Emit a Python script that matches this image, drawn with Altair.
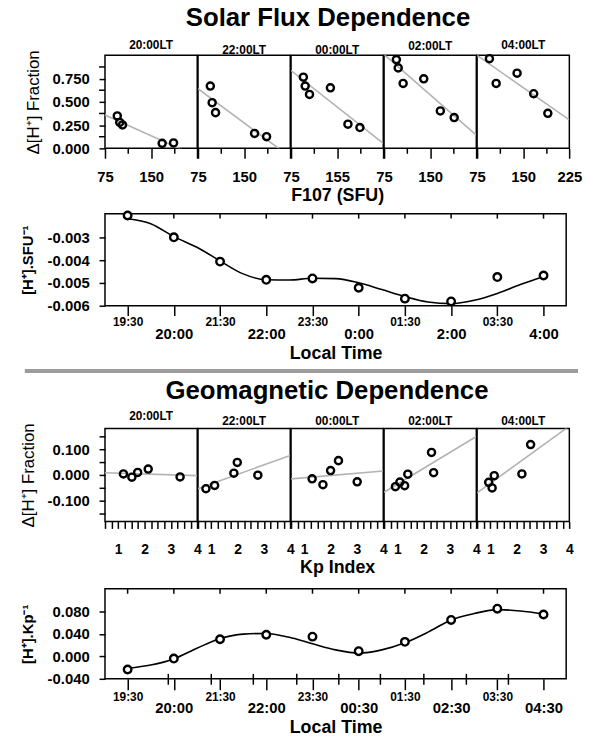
import altair as alt
import pandas as pd

FONT = "Liberation Sans"

# ---------------- data: solar flux scatter panels ----------------
solar_panels = ["20:00LT", "22:00LT", "00:00LT", "02:00LT", "04:00LT"]
solar_f107 = [
    [95, 99, 103.5, 168, 186.5],
    [95, 98, 103.5, 167, 186.5],
    [95, 98, 105, 139, 167.5, 187],
    [95, 98, 106, 139.5, 166.5, 189],
    [95, 106, 140, 167, 190],
]
solar_frac = [
    [0.349, 0.278, 0.252, 0.054, 0.058],
    [0.669, 0.491, 0.384, 0.160, 0.125],
    [0.765, 0.669, 0.580, 0.651, 0.260, 0.224],
    [0.954, 0.865, 0.698, 0.747, 0.402, 0.331],
    [0.964, 0.698, 0.808, 0.587, 0.377],
]
solar_fit_f107 = [75, 225]
solar_fit_start = [0.359, 0.641, 0.836, 1.009, 1.0]
solar_fit_end = [-0.088, -0.093, 0.053, 0.142, 0.306]
solar_x_ticks = [75, 112.5, 150, 187.5, 225]
solar_x_tick_text = [
    ["75", "", "150", "", ""],
    ["75", "", "150", "", ""],
    ["75", "", "155", "", ""],
    ["75", "", "150", "", ""],
    ["75", "", "150", "", "225"],
]
solar_y_labels = [0, 0.25, 0.5, 0.75]
solar_y_minor = [0.125, 0.375, 0.625, 0.875]

# ---------------- data: geomagnetic scatter panels ----------------
geo_panels = ["20:00LT", "22:00LT", "00:00LT", "02:00LT", "04:00LT"]
geo_kp = [
    [1.2, 1.52, 1.74, 2.14, 3.35],
    [0.8, 1.13, 1.86, 1.99, 2.77],
    [1.3, 1.71, 2.0, 2.3, 3.01],
    [0.93, 1.1, 1.28, 1.4, 2.3, 2.38],
    [0.94, 1.07, 1.15, 2.2, 2.53],
]
geo_frac = [
    [0.004, -0.009, 0.010, 0.023, -0.008],
    [-0.054, -0.041, 0.007, 0.049, -0.001],
    [-0.015, -0.038, 0.017, 0.056, -0.027],
    [-0.046, -0.028, -0.042, 0.003, 0.088, 0.009],
    [-0.029, -0.051, -0.003, 0.004, 0.119],
]
geo_fit_kp = [0.5, 4.0]
geo_fit_start = [0.0089, -0.0536, -0.0153, -0.0676, -0.070]
geo_fit_end = [-0.0026, 0.0765, 0.0153, 0.1505, 0.191]
geo_x_ticks = [0.5, 0.75, 1, 1.25, 1.5, 1.75, 2, 2.25, 2.5, 2.75, 3, 3.25, 3.5, 3.75, 4]
geo_x_tick_text = ["", "", "1", "", "", "", "2", "", "", "", "3", "", "", "", "4"]
geo_y_ticks = [-0.15, -0.1, -0.05, 0, 0.05, 0.1, 0.15]
geo_y_tick_text = ["", "-0.100", "", "0.000", "", "0.100", ""]

# ---------------- data: local-time line panels ----------------
time_pos = [0, 1, 2, 3, 4, 5, 6, 7, 8, 9]
solar_time_labels = ["19:30", "20:00", "21:30", "22:00", "23:30", "0:00", "01:30", "2:00", "03:30", "4:00"]
solar_slope = [-0.00203, -0.00299, -0.00406, -0.00486, -0.00480, -0.00521, -0.00569, -0.00581, -0.00474, -0.00467]
curve_pos = [0, 0.5, 1, 1.5, 2, 2.5, 3, 3.5, 4, 4.5, 5, 5.5, 6, 6.5, 7, 7.5, 8, 8.5, 9]
solar_curve = [-0.00217, -0.00239, -0.00296, -0.00343, -0.00403, -0.00460, -0.00486, -0.00487, -0.00479,
               -0.00481, -0.00499, -0.00529, -0.00560, -0.00584, -0.00591, -0.00576, -0.00546, -0.00507, -0.00471]
solar_y_ticks = [-0.006, -0.005, -0.004, -0.003]
solar_y_text = ["-0.006", "-0.005", "-0.004", "-0.003"]

geo_time_labels = ["19:30", "20:00", "21:30", "22:00", "23:30", "00:30", "01:30", "02:30", "03:30", "04:30"]
geo_slope = [-0.0234, -0.0040, 0.0303, 0.0383, 0.0349, 0.0091, 0.0257, 0.0646, 0.0846, 0.0743]
geo_curve = [-0.0211, -0.0154, -0.0046, 0.0143, 0.0314, 0.0394, 0.0406, 0.0337, 0.0223, 0.0114,
             0.0057, 0.0114, 0.0240, 0.0429, 0.0646, 0.0760, 0.0829, 0.0806, 0.0754]
geo_line_y_ticks = [-0.04, 0.0, 0.04, 0.08]
geo_line_y_text = ["-0.040", "0.000", "0.040", "0.080"]
geo_minor_ticks = [0.88, 1.81, 2.72, 3.66, 4.57, 5.47, 6.41, 7.33, 8.24]

PANEL_W = 93.2
LINE_W = 466


def js_list(items):
    return "[" + ",".join("'%s'" % s for s in items) + "]"


def scatter_panel(title, xs, ys, fit_x, fit_y, xdom, ydom, xaxis, yaxis, w, h, toff, yminor=None):
    pts = pd.DataFrame({"x": xs, "y": ys})
    fit = pd.DataFrame({"x": fit_x, "y": fit_y})
    X = alt.X("x:Q", scale=alt.Scale(domain=xdom, nice=False, zero=False), axis=xaxis)
    Y = alt.Y("y:Q", scale=alt.Scale(domain=ydom, nice=False, zero=False), axis=yaxis)
    fitl = alt.Chart(fit).mark_line(color="#b3b3b3", strokeWidth=1.6, clip=True).encode(x=X, y=Y)
    dots = alt.Chart(pts).mark_point(shape="circle", filled=False, color="black",
                                     strokeWidth=2.4, size=52, opacity=1).encode(x=X, y=Y)
    layers = [fitl, dots]
    if yminor is not None:
        mt = alt.Chart(pd.DataFrame({"y": yminor})).mark_rule(color="black", strokeWidth=1.5).encode(
            y=Y, x=alt.value(-6), x2=alt.value(0))
        layers.append(mt)
    return alt.layer(*layers).properties(
        width=w, height=h,
        title=alt.TitleParams(title, fontSize=12, fontWeight="bold", offset=toff, anchor="middle"))


# ---- solar row
solar_charts = []
for i in range(5):
    xkw = dict(values=solar_x_ticks,
               labelExpr=js_list(solar_x_tick_text[i]) + "[round((datum.value - 75) / 37.5)]",
               tickSize={"condition": {"test": "datum.value % 75 != 0", "value": 5}, "value": 10},
               labelPadding=11, labelFontSize=15, labelOverlap=False)
    if i == 2:
        xkw.update(title="F107 (SFU)", titleFontSize=18, titlePadding=3)
    else:
        xkw.update(title=None)
    if i == 0:
        yaxis = alt.Axis(values=solar_y_labels, format=".3f",
                         tickSize=6, labelPadding=10, labelFontSize=15, labelOverlap=False,
                         title="\u0394[H\u207a] Fraction", titleFontSize=17, titleFontWeight="normal",
                         titlePadding=10)
        minor = solar_y_minor
    else:
        yaxis = None
        minor = None
    solar_charts.append(scatter_panel(solar_panels[i], solar_f107[i], solar_frac[i], solar_fit_f107,
                                      [solar_fit_start[i], solar_fit_end[i]], [75, 225],
                                      [0, 1.0], alt.Axis(**xkw), yaxis, PANEL_W, 94, -2, minor))

solar_row = alt.hconcat(*solar_charts, spacing=0, bounds="flush")

# ---- geo row
geo_charts = []
for i in range(5):
    xkw = dict(values=geo_x_ticks, labelExpr=js_list(geo_x_tick_text) + "[round((datum.value - 0.5) * 4)]",
               tickSize=7, labelPadding=14.5, labelFontSize=14, labelOverlap=False)
    if i == 2:
        xkw.update(title="Kp Index", titleFontSize=18, titlePadding=2)
    else:
        xkw.update(title=None)
    if i == 0:
        yaxis = alt.Axis(values=geo_y_ticks,
                         labelExpr=js_list(geo_y_tick_text) + "[round((datum.value + 0.15) * 20)]",
                         tickSize=6, labelPadding=10, labelFontSize=15, labelOverlap=False,
                         title="\u0394[H\u207a] Fraction", titleFontSize=17, titleFontWeight="normal",
                         titlePadding=10)
    else:
        yaxis = None
    geo_charts.append(scatter_panel(geo_panels[i], geo_kp[i], geo_frac[i], geo_fit_kp,
                                    [geo_fit_start[i], geo_fit_end[i]], [0.5, 4.0], [-0.182, 0.182],
                                    alt.Axis(**xkw), yaxis, PANEL_W, 94, 0))

geo_row = alt.hconcat(*geo_charts, spacing=0, bounds="flush")


def line_panel(labels, slope, curve, ydom, yticks, ytext, yexpr, ytitle, h, tick_len, minor=None):
    X = alt.X("t:Q", scale=alt.Scale(domain=[-0.49, 9.49], nice=False, zero=False),
              axis=alt.Axis(values=time_pos, labelExpr=js_list(labels) + "[round(datum.value)]",
                            tickSize=tick_len, labelOverlap=False,
                            labelFontSize={"condition": {"test": "datum.value % 2 == 0", "value": 12}, "value": 15},
                            labelPadding={"condition": {"test": "datum.value % 2 == 0", "value": 1.5}, "value": 11.5},
                            title="Local Time", titleFontSize=18, titlePadding=3))
    Y = alt.Y("v:Q", scale=alt.Scale(domain=ydom, nice=False, zero=False),
              axis=alt.Axis(values=yticks, labelExpr=js_list(ytext) + "[" + yexpr + "]", tickSize=6,
                            labelPadding=10, labelFontSize=15, labelOverlap=False,
                            title=ytitle, titleFontSize=15, titlePadding=11.5))
    top = alt.Chart(pd.DataFrame({"t": time_pos})).mark_rule(color="black", strokeWidth=1.5).encode(
        x=X, y=alt.value(0), y2=alt.value(5))
    crv = alt.Chart(pd.DataFrame({"t": curve_pos, "v": curve})).mark_line(
        color="black", strokeWidth=1.6, interpolate="monotone").encode(x=X, y=Y)
    dots = alt.Chart(pd.DataFrame({"t": time_pos, "v": slope})).mark_point(
        shape="circle", filled=True, fill="white", stroke="black", strokeWidth=2.4, size=58,
        opacity=1).encode(x=X, y=Y)
    layers = [top, crv, dots]
    if minor is not None:
        mt = alt.Chart(pd.DataFrame({"t": minor})).mark_rule(color="black", strokeWidth=1.5).encode(
            x=X, y=alt.value(h - 5), y2=alt.value(h + 6))
        layers.append(mt)
    return alt.layer(*layers).properties(width=LINE_W, height=h)


solar_line = line_panel(solar_time_labels, solar_slope, solar_curve, [-0.006, -0.00195], solar_y_ticks,
                        solar_y_text, "round((datum.value + 0.006) * 1000)",
                        "[H\u207a].SFU\u207b\u00b9", 93, 10)
geo_line = line_panel(geo_time_labels, geo_slope, geo_curve, [-0.04, 0.12], geo_line_y_ticks,
                      geo_line_y_text, "round((datum.value + 0.04) * 25)",
                      "[H\u207a].Kp\u207b\u00b9", 91, 11, geo_minor_ticks)

sec1 = alt.vconcat(solar_row, solar_line, spacing=0).properties(
    title=alt.TitleParams("Solar Flux Dependence", fontSize=26, fontWeight="bold", anchor="middle",
                          frame="bounds", dx=27, offset=7))
sec2 = alt.vconcat(geo_row, geo_line, spacing=9).properties(
    title=alt.TitleParams("Geomagnetic Dependence", fontSize=26, fontWeight="bold", anchor="middle",
                          frame="bounds", dx=31, offset=5))

sep = alt.Chart(pd.DataFrame({"s": [0]})).mark_rule(color="#9c9c9c", strokeWidth=4).encode(
    x=alt.value(-81), x2=alt.value(478), y=alt.value(2)
).properties(width=LINE_W, height=4, view=alt.ViewBackground(strokeOpacity=0))

chart = alt.vconcat(sec1, sep, sec2, spacing=5).properties(
    padding={"left": 10, "top": -7, "right": 0, "bottom": -3}
).configure_view(stroke="black", strokeWidth=1.5).configure_axis(
    labelFont=FONT, titleFont=FONT, labelFontWeight="bold", titleFontWeight="bold",
    labelColor="black", titleColor="black", tickColor="black", tickWidth=1.5,
    domain=False, grid=False, labelFlush=False
).configure_title(font=FONT, color="black")

chart.save("out.html", embed_options={"renderer": "svg", "actions": False})
